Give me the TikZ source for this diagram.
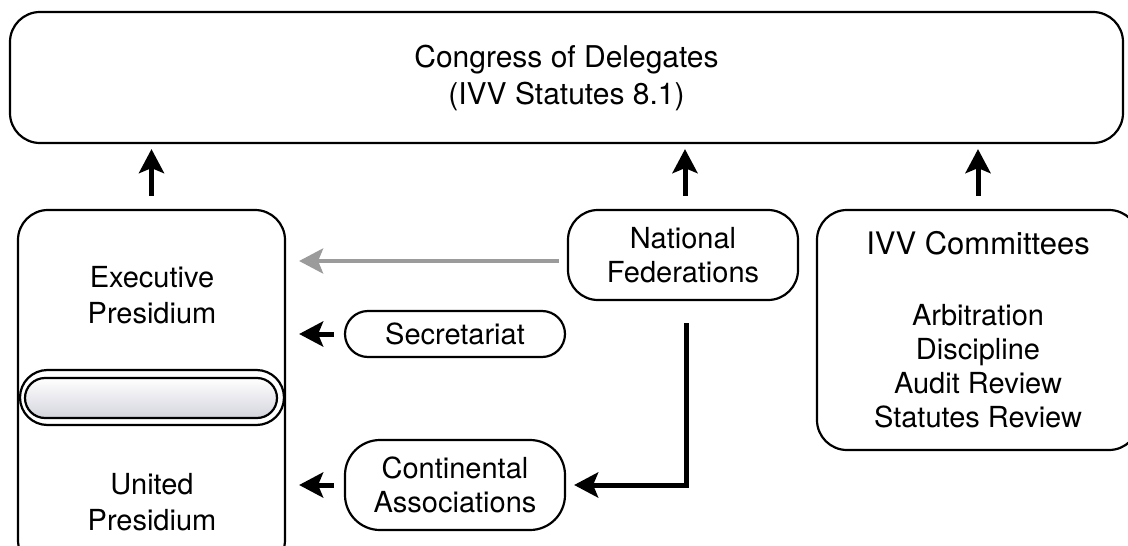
\documentclass[tikz,border=0pt]{standalone}
\usepackage{fontspec}
\setmainfont{TeX Gyre Heros}
\usetikzlibrary{arrows.meta}
\definecolor{pillgray}{RGB}{212,212,222}
\definecolor{linkgray}{RGB}{155,155,155}

\begin{document}
\begin{tikzpicture}[x=1pt,y=-1pt,
	box/.style={draw, line width=2.2pt, fill=white, align=center, inner sep=0pt, font=\fontsize{29}{34}\selectfont},
	label/.style={align=center, inner sep=0pt, font=\fontsize{29}{36}\selectfont},
	link/.style={line width=5pt, -{Stealth[length=24pt,width=25pt,inset=5pt]}}]
\useasboundingbox (0,0) rectangle (1128,546);
\clip (0,0) rectangle (1128,546);
\node [box, rounded corners=30pt, minimum width=1113pt, minimum height=131pt, font=\fontsize{30}{37}\selectfont] (congress) at (566.5,77.5) {Congress of Delegates\\(IVV Statutes 8.1)};
\node [box, rounded corners=30pt, minimum width=267pt, minimum height=360pt] (presidium) at (151.5,390) {};
\node [label] (exec) at (152,295) {Executive\\Presidium};
\node [box, rounded corners=27.5pt, minimum width=264pt, minimum height=55pt] (pill) at (152,397.5) {};
\node [box, rounded corners=20pt, minimum width=252pt, minimum height=40pt, top color=white, bottom color=pillgray] (pillin) at (151,398) {};
\node [label] (united) at (152,502) {United\\Presidium};
\node [box, rounded corners=30pt, minimum width=230pt, minimum height=90pt] (nat) at (683,255) {National\\Federations};
\node [box, rounded corners=23pt, minimum width=220pt, minimum height=46pt] (secr) at (455,334) {Secretariat};
\node [box, rounded corners=35pt, minimum width=220pt, minimum height=90pt] (cont) at (455,485) {Continental\\Associations};
\node [box, rounded corners=30pt, minimum width=322pt, minimum height=240pt] (comm) at (978,330) {{\fontsize{31}{34}\selectfont IVV Committees}\\[37pt]Arbitration\\Discipline\\Audit Review\\Statutes Review};
\draw [link, shorten <=13pt, shorten >=5pt] (presidium.north) -- (presidium.north |- congress.south);
\draw [link, shorten <=13pt, shorten >=5pt] ([xshift=2pt]nat.north) -- ([xshift=2pt]nat.north |- congress.south);
\draw [link, shorten <=13pt, shorten >=5pt] (comm.north) -- (comm.north |- congress.south);
\draw [link, linkgray, line width=4pt, shorten <=8pt, shorten >=13pt] ([yshift=-6pt]nat.west) -- ([yshift=-6pt]nat.west -| presidium.east);
\draw [link, shorten <=10pt, shorten >=13pt] (secr.west) -- (secr.west -| presidium.east);
\draw [link, shorten <=10pt, shorten >=13pt] (cont.west) -- (cont.west -| presidium.east);
\draw [link, shorten <=22pt, shorten >=8pt] ([xshift=3pt]nat.south) |- (cont.east);
\end{tikzpicture}
\end{document}
